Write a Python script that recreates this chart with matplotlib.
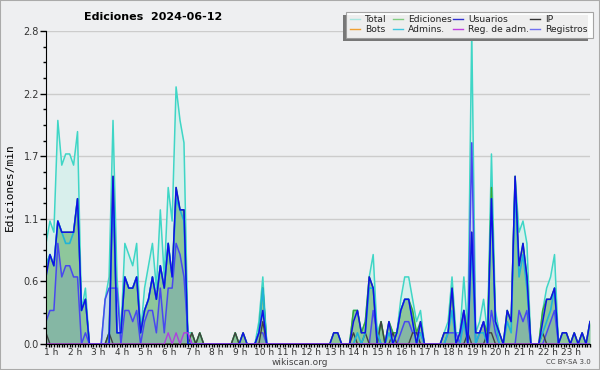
import numpy as np
import matplotlib
matplotlib.use('Agg')
import matplotlib.pyplot as plt
import matplotlib.transforms as mtransforms
from matplotlib.lines import Line2D
from matplotlib.patches import Rectangle
from matplotlib.ticker import FixedLocator, MultipleLocator

# actions per minute, 10-minute bins, one row per hour (1 h .. 23 h) + closing point
total = [
    0.9, 1.1, 1.0, 2.0, 1.6, 1.7,
    1.7, 1.6, 1.9, 0.3, 0.5, 0.0,
    0.0, 0.0, 0.0, 0.4, 0.6, 2.0,
    0.6, 0.1, 0.9, 0.8, 0.7, 0.9,
    0.1, 0.5, 0.7, 0.9, 0.5, 1.2,
    0.6, 1.4, 1.1, 2.3, 2.0, 1.8,
    0.1, 0.1, 0.0, 0.1, 0.0, 0.0,
    0.0, 0.0, 0.0, 0.0, 0.0, 0.0,
    0.1, 0.0, 0.1, 0.0, 0.0, 0.0,
    0.2, 0.6, 0.0, 0.0, 0.0, 0.0,
    0.0, 0.0, 0.0, 0.0, 0.0, 0.0,
    0.0, 0.0, 0.0, 0.0, 0.0, 0.0,
    0.0, 0.1, 0.1, 0.0, 0.0, 0.0,
    0.3, 0.3, 0.1, 0.2, 0.6, 0.8,
    0.1, 0.2, 0.0, 0.2, 0.1, 0.1,
    0.4, 0.6, 0.6, 0.4, 0.2, 0.3,
    0.0, 0.0, 0.0, 0.0, 0.0, 0.1,
    0.2, 0.6, 0.1, 0.1, 0.6, 0.1,
    2.8, 0.1, 0.2, 0.4, 0.1, 1.7,
    0.3, 0.1, 0.0, 0.3, 0.2, 1.5,
    1.0, 1.1, 0.9, 0.0, 0.0, 0.0,
    0.3, 0.5, 0.6, 0.8, 0.0, 0.1,
    0.1, 0.0, 0.1, 0.0, 0.1, 0.0,
    0.2,
]
ediciones = [
    0.7, 0.8, 0.7, 1.1, 1.0, 1.0,
    1.0, 1.0, 1.3, 0.3, 0.4, 0.0,
    0.0, 0.0, 0.0, 0.0, 0.1, 1.5,
    0.1, 0.1, 0.6, 0.5, 0.5, 0.6,
    0.1, 0.3, 0.4, 0.6, 0.4, 0.7,
    0.5, 0.9, 0.6, 1.4, 1.2, 1.2,
    0.0, 0.1, 0.0, 0.1, 0.0, 0.0,
    0.0, 0.0, 0.0, 0.0, 0.0, 0.0,
    0.1, 0.0, 0.1, 0.0, 0.0, 0.0,
    0.1, 0.5, 0.0, 0.0, 0.0, 0.0,
    0.0, 0.0, 0.0, 0.0, 0.0, 0.0,
    0.0, 0.0, 0.0, 0.0, 0.0, 0.0,
    0.0, 0.1, 0.1, 0.0, 0.0, 0.0,
    0.3, 0.3, 0.1, 0.2, 0.6, 0.5,
    0.0, 0.2, 0.0, 0.2, 0.1, 0.1,
    0.3, 0.4, 0.4, 0.3, 0.1, 0.2,
    0.0, 0.0, 0.0, 0.0, 0.0, 0.1,
    0.1, 0.5, 0.0, 0.1, 0.3, 0.1,
    1.0, 0.1, 0.1, 0.2, 0.1, 1.4,
    0.2, 0.1, 0.0, 0.3, 0.2, 1.5,
    0.7, 0.9, 0.6, 0.0, 0.0, 0.0,
    0.3, 0.4, 0.4, 0.5, 0.0, 0.1,
    0.1, 0.0, 0.1, 0.0, 0.1, 0.0,
    0.2,
]
usuarios = [
    0.6, 0.8, 0.7, 1.1, 1.0, 1.0,
    1.0, 1.0, 1.3, 0.3, 0.4, 0.0,
    0.0, 0.0, 0.0, 0.0, 0.0, 1.5,
    0.1, 0.1, 0.6, 0.5, 0.5, 0.6,
    0.1, 0.3, 0.4, 0.6, 0.4, 0.7,
    0.5, 0.9, 0.6, 1.4, 1.2, 1.2,
    0.0, 0.0, 0.0, 0.0, 0.0, 0.0,
    0.0, 0.0, 0.0, 0.0, 0.0, 0.0,
    0.0, 0.0, 0.1, 0.0, 0.0, 0.0,
    0.1, 0.3, 0.0, 0.0, 0.0, 0.0,
    0.0, 0.0, 0.0, 0.0, 0.0, 0.0,
    0.0, 0.0, 0.0, 0.0, 0.0, 0.0,
    0.0, 0.1, 0.1, 0.0, 0.0, 0.0,
    0.2, 0.3, 0.1, 0.1, 0.6, 0.5,
    0.0, 0.0, 0.0, 0.2, 0.0, 0.1,
    0.3, 0.4, 0.4, 0.2, 0.0, 0.2,
    0.0, 0.0, 0.0, 0.0, 0.0, 0.1,
    0.1, 0.5, 0.0, 0.1, 0.3, 0.0,
    1.0, 0.1, 0.1, 0.2, 0.0, 1.3,
    0.2, 0.1, 0.0, 0.3, 0.2, 1.5,
    0.7, 0.9, 0.6, 0.0, 0.0, 0.0,
    0.2, 0.4, 0.4, 0.5, 0.0, 0.1,
    0.1, 0.0, 0.1, 0.0, 0.1, 0.0,
    0.2,
]
ip = [
    0.1, 0.0, 0.0, 0.0, 0.0, 0.0,
    0.0, 0.0, 0.0, 0.0, 0.0, 0.0,
    0.0, 0.0, 0.0, 0.0, 0.1, 0.0,
    0.0, 0.0, 0.0, 0.0, 0.0, 0.0,
    0.0, 0.0, 0.0, 0.0, 0.0, 0.0,
    0.0, 0.0, 0.0, 0.0, 0.0, 0.0,
    0.0, 0.1, 0.0, 0.1, 0.0, 0.0,
    0.0, 0.0, 0.0, 0.0, 0.0, 0.0,
    0.1, 0.0, 0.0, 0.0, 0.0, 0.0,
    0.0, 0.2, 0.0, 0.0, 0.0, 0.0,
    0.0, 0.0, 0.0, 0.0, 0.0, 0.0,
    0.0, 0.0, 0.0, 0.0, 0.0, 0.0,
    0.0, 0.0, 0.0, 0.0, 0.0, 0.0,
    0.1, 0.0, 0.0, 0.1, 0.0, 0.0,
    0.0, 0.2, 0.0, 0.0, 0.1, 0.0,
    0.0, 0.0, 0.0, 0.1, 0.1, 0.0,
    0.0, 0.0, 0.0, 0.0, 0.0, 0.0,
    0.0, 0.0, 0.0, 0.0, 0.0, 0.1,
    0.0, 0.0, 0.0, 0.0, 0.1, 0.1,
    0.0, 0.0, 0.0, 0.0, 0.0, 0.0,
    0.0, 0.0, 0.0, 0.0, 0.0, 0.0,
    0.1, 0.0, 0.0, 0.0, 0.0, 0.0,
    0.0, 0.0, 0.0, 0.0, 0.0, 0.0,
    0.0,
]
admins = [
    0.7, 0.8, 0.7, 1.1, 1.0, 0.9,
    0.9, 1.0, 1.3, 0.3, 0.4, 0.0,
    0.0, 0.0, 0.0, 0.0, 0.0, 1.4,
    0.1, 0.1, 0.6, 0.5, 0.5, 0.6,
    0.1, 0.3, 0.4, 0.6, 0.4, 0.7,
    0.5, 0.9, 0.6, 1.3, 1.2, 1.1,
    0.0, 0.0, 0.0, 0.0, 0.0, 0.0,
    0.0, 0.0, 0.0, 0.0, 0.0, 0.0,
    0.0, 0.0, 0.0, 0.0, 0.0, 0.0,
    0.1, 0.5, 0.0, 0.0, 0.0, 0.0,
    0.0, 0.0, 0.0, 0.0, 0.0, 0.0,
    0.0, 0.0, 0.0, 0.0, 0.0, 0.0,
    0.0, 0.0, 0.0, 0.0, 0.0, 0.0,
    0.0, 0.1, 0.0, 0.1, 0.5, 0.5,
    0.1, 0.0, 0.0, 0.1, 0.0, 0.1,
    0.3, 0.4, 0.4, 0.2, 0.0, 0.1,
    0.0, 0.0, 0.0, 0.0, 0.0, 0.0,
    0.1, 0.3, 0.0, 0.0, 0.2, 0.0,
    0.9, 0.0, 0.1, 0.1, 0.0, 1.3,
    0.2, 0.0, 0.0, 0.2, 0.1, 1.4,
    0.6, 0.8, 0.5, 0.0, 0.0, 0.0,
    0.1, 0.2, 0.3, 0.5, 0.0, 0.0,
    0.0, 0.0, 0.0, 0.0, 0.0, 0.0,
    0.0,
]
registros = [
    0.2, 0.3, 0.3, 0.9, 0.6, 0.7,
    0.7, 0.6, 0.6, 0.0, 0.1, 0.0,
    0.0, 0.0, 0.0, 0.4, 0.5, 0.5,
    0.5, 0.0, 0.3, 0.3, 0.2, 0.3,
    0.0, 0.2, 0.3, 0.3, 0.1, 0.5,
    0.1, 0.5, 0.5, 0.9, 0.8, 0.6,
    0.1, 0.0, 0.0, 0.0, 0.0, 0.0,
    0.0, 0.0, 0.0, 0.0, 0.0, 0.0,
    0.0, 0.0, 0.0, 0.0, 0.0, 0.0,
    0.1, 0.1, 0.0, 0.0, 0.0, 0.0,
    0.0, 0.0, 0.0, 0.0, 0.0, 0.0,
    0.0, 0.0, 0.0, 0.0, 0.0, 0.0,
    0.0, 0.0, 0.0, 0.0, 0.0, 0.0,
    0.0, 0.0, 0.0, 0.0, 0.0, 0.3,
    0.1, 0.0, 0.0, 0.0, 0.0, 0.0,
    0.1, 0.2, 0.2, 0.1, 0.1, 0.1,
    0.0, 0.0, 0.0, 0.0, 0.0, 0.0,
    0.1, 0.1, 0.1, 0.0, 0.3, 0.0,
    1.8, 0.0, 0.1, 0.2, 0.0, 0.3,
    0.1, 0.0, 0.0, 0.0, 0.0, 0.0,
    0.3, 0.2, 0.3, 0.0, 0.0, 0.0,
    0.0, 0.1, 0.2, 0.3, 0.0, 0.0,
    0.0, 0.0, 0.0, 0.0, 0.0, 0.0,
    0.0,
]
reg_adm = [0.0] * 31 + [0.1, 0.0, 0.1, 0.0, 0.1, 0.1] + [0.0] * 102
bots = [0.0] * 139

hour_labels = ['%d h' % h for h in range(1, 24)]
y_ticks = [0, 0.56, 1.12, 1.68, 2.24, 2.8]
y_labels = ['0.0', '0.6', '1.1', '1.7', '2.2', '2.8']

hours = 1 + np.arange(len(total)) / 6.0

bg = '#eeeff1'
fig = plt.figure(figsize=(6, 3.7), dpi=100, facecolor=bg)
ax = fig.add_axes([46 / 600, 1 - 344 / 370, 544 / 600, 313 / 370])
ax.set_facecolor(bg)

ax.fill_between(hours, total, color='#d8efec', lw=0, zorder=1)
ax.fill_between(hours, ediciones, color='#8ec79b', lw=0, zorder=1.1)
ax.fill_between(hours, registros, color='#4a50e8', alpha=0.13, lw=0, zorder=1.2)

ax.plot(hours, bots, color='#f0a040', lw=1, zorder=1.5)
ax.plot(hours, total, color='#3fd6c6', lw=1.1, zorder=1.6)
ax.plot(hours, ediciones, color='#3aa83a', lw=1.1, zorder=1.7)
ax.plot(hours, registros, color='#4848f0', lw=1.1, zorder=1.8)
ax.plot(hours, ip, color='#404040', lw=1, zorder=1.9)
ax.plot(hours, admins, color='#20b4d8', lw=1.2, zorder=2.0)
ax.plot(hours, usuarios, color='#1010e6', lw=1.1, zorder=2.1)
ax.plot(hours, reg_adm, color='#b040e0', lw=1, zorder=2.2)

ax.set_xlim(1, 24)
ax.set_ylim(0, 2.8)
ax.spines['top'].set_visible(False)
ax.spines['right'].set_visible(False)
ax.spines['left'].set_zorder(3)
ax.spines['bottom'].set_zorder(3)

ax.yaxis.set_major_locator(FixedLocator(y_ticks))
ax.set_yticklabels(y_labels)
ax.yaxis.set_minor_locator(MultipleLocator(0.14))
ax.xaxis.set_major_locator(FixedLocator(range(1, 24)))
ax.set_xticklabels(hour_labels)
ax.xaxis.set_minor_locator(MultipleLocator(1 / 9))
ax.tick_params(axis='y', which='major', length=4, width=1, labelsize=7, labelcolor='#333333', pad=1)
ax.tick_params(axis='y', which='minor', length=2.5, width=1)
ax.tick_params(axis='x', which='both', length=2.5, width=1, labelsize=6.5, labelcolor='#333333', pad=0.5)
offset = mtransforms.ScaledTranslation(5 / 100, 0.5 / 100, fig.dpi_scale_trans)
for lab in ax.get_xticklabels():
    lab.set_transform(lab.get_transform() + offset)
ax.grid(axis='y', which='major', color='#cccccc', lw=1)
ax.set_axisbelow(True)

ax.set_ylabel('Ediciones/min', family='DejaVu Sans Mono', fontsize=8, labelpad=6)

fig.text(153 / 600, 1 - 17 / 370, 'Ediciones  2024-06-12', ha='center', va='center',
         fontsize=8, fontweight='bold')
fig.text(300 / 600, 1 - 362.5 / 370, 'wikiscan.org', ha='center', va='center', fontsize=6.5, color='#444444')
fig.text(568 / 600, 1 - 362.5 / 370, 'CC BY-SA 3.0', ha='center', va='center', fontsize=5, color='#444444')

# legend box drawn at figure level
def fx(x):
    return x / 600

def fy(y):
    return 1 - y / 370

fig.patches.append(Rectangle((fx(343), fy(41)), fx(245), 26 / 370, transform=fig.transFigure,
                             facecolor='#777777', edgecolor='none', zorder=5))
fig.patches.append(Rectangle((fx(346), fy(38)), fx(247), 26 / 370, transform=fig.transFigure,
                             facecolor='white', alpha=0.88, edgecolor='#999999', lw=0.8, zorder=6))
legend_names = [['Total', 'Ediciones', 'Usuarios', 'IP'],
                ['Bots', 'Admins.', 'Reg. de adm.', 'Registros']]
legend_colors = [['#a8e6e0', '#80cc80', '#3030d0', '#333333'],
                 ['#f0a030', '#40c8e0', '#c040e0', '#7070f0']]
col_x = [350, 393, 453, 530]
row_y = [19, 29]
for r in range(2):
    for c in range(4):
        x0 = col_x[c]
        fig.lines.append(Line2D([fx(x0), fx(x0 + 10)], [fy(row_y[r])] * 2, transform=fig.transFigure,
                                color=legend_colors[r][c], lw=1, zorder=7))
        fig.text(fx(x0 + 15), fy(row_y[r]), legend_names[r][c], ha='left', va='center',
                 fontsize=6.6, color='#222222', zorder=7)

fig.patches.append(Rectangle((0, 0), 1, 1, transform=fig.transFigure, facecolor='none',
                             edgecolor='#aaaaaa', lw=1.5, zorder=10))

fig.savefig('out.png', dpi=100, facecolor=bg)
